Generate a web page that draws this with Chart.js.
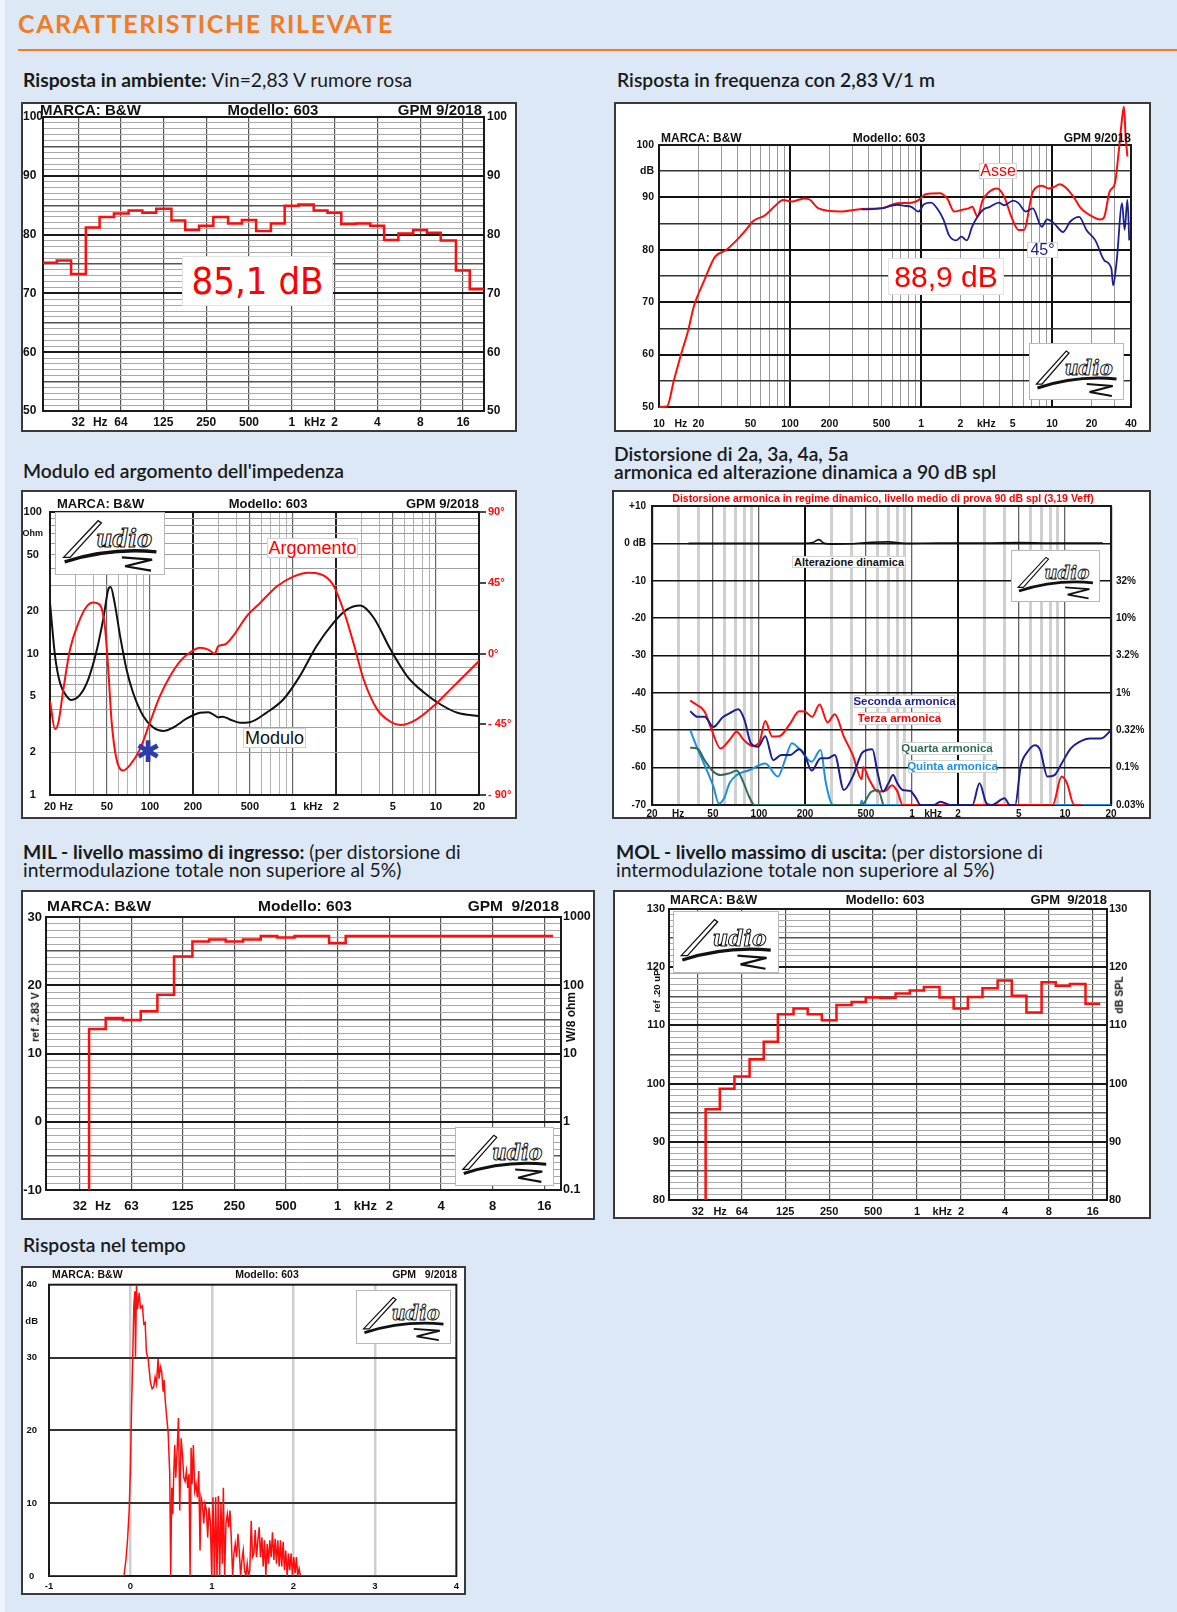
<!DOCTYPE html>
<html lang="it">
<head>
<meta charset="utf-8">
<title>Caratteristiche rilevate - B&amp;W 603</title>
<script src="https://cdn.jsdelivr.net/npm/chart.js@4.4.1/dist/chart.umd.min.js"></script>
<style>
  html, body { margin: 0; padding: 0; }
  body { width: 1177px; height: 1612px; position: relative; overflow: hidden; background: #dce8f6; font-family: Lato, 'Open Sans', sans-serif; color: #1a1a1a; }
  #strip { position: absolute; left: 0; top: 0; width: 5px; height: 1612px; background: #eef4fb; }
  #titolo { position: absolute; left: 18px; top: 11px; font: 700 25px/25px Lato, sans-serif; color: #f47b20; letter-spacing: 1.6px; white-space: nowrap; }
  #riga { position: absolute; left: 18px; top: 49px; width: 1159px; height: 2px; background: #f47b20; }
  .head { position: absolute; font-size: 19.3px; line-height: 18px; font-weight: 600; white-space: nowrap; color: #1a1a1a; }
  .head b { font-weight: 700; }
  .head span { font-weight: 400; }
  .box { position: absolute; background: #fff; border: 2px solid #3a3a3a; box-sizing: border-box; }
  .box canvas { position: absolute; left: 0; top: 0; }
  .t { position: absolute; white-space: pre; line-height: 1; font-family: 'Liberation Sans', Arial, sans-serif; font-weight: bold; color: #111; }
  .tag { position: absolute; display: flex; align-items: center; justify-content: center; white-space: nowrap; background: #fff; border: 1px solid #d4d4d4; box-sizing: border-box; line-height: 1; font-family: 'Liberation Sans', Arial, sans-serif; }
  .logo { position: absolute; background: #fff; border: 1px solid #b8b8b8; box-sizing: border-box; }
</style>
</head>
<body>
<div id="strip"></div>
<div id="titolo">CARATTERISTICHE RILEVATE</div>
<div id="riga"></div>

<div class="head" style="left:23px;top:71px"><b>Risposta in ambiente:</b> <span>Vin=2,83 V rumore rosa</span></div>
<div class="head" style="left:617px;top:71px">Risposta in frequenza con 2,83 V/1 m</div>
<div class="head" style="left:23px;top:462px">Modulo ed argomento dell'impedenza</div>
<div class="head" style="left:614px;top:445px">Distorsione di 2a, 3a, 4a, 5a<br>armonica ed alterazione dinamica a 90 dB spl</div>
<div class="head" style="left:23px;top:843px"><b>MIL - livello massimo di ingresso:</b> <span>(per distorsione di<br>intermodulazione totale non superiore al 5%)</span></div>
<div class="head" style="left:616px;top:843px"><b>MOL - livello massimo di uscita:</b> <span>(per distorsione di<br>intermodulazione totale non superiore al 5%)</span></div>
<div class="head" style="left:23px;top:1236px">Risposta nel tempo</div>

<script>
// ---------- dati ----------

// risposta in ambiente, bande di 1/3 di ottava
const ambBandHz = [20,25,31.5,40,50,63,80,100,125,160,200,250,315,400,500,630,800,1000,1250,1600,2000,2500,3150,4000,5000,6300,8000,10000,12500,16000,20000];
const ambDb = [75.2,75.6,73.3,81.2,83.0,83.6,84.1,83.7,84.4,82.4,80.8,81.5,83.0,81.9,82.5,80.6,81.9,84.9,85.1,84.1,83.7,81.8,81.9,81.5,79.1,80.2,80.8,80.3,79.0,73.9,70.7];
const ambXTickHz = [31.5,45,63,125,250,500,1000,1450,2000,4000,8000,16000];
const ambXTickLbl = ['32','Hz','64','125','250','500','1','kHz','2','4','8','16'];
const ambYTick = [50,60,70,80,90,100];
const ambYLbl = ['50','60','70','80','90','100'];

// risposta in frequenza [Hz, dB]
const frqAsse = [[10,50],[11.5,50.1],[13,55.1],[14.8,60.2],[16.7,64.6],[18.4,69.1],[22.2,74.2],[26.8,78.7],[32.3,79.9],[39,81.8],[47.1,84.1],[51.8,85.4],[64.5,86.6],[77.8,88.5],[88.2,89.5],[103,89.2],[128,89.8],[141,89.6],[165,87.9],[241,87.3],[351,87.8],[511,88.0],[656,88.9],[843,89.0],[957,89.5],[1084,90.6],[1393,90.8],[1581,89.8],[1791,87.3],[2032,87.6],[2303,87.9],[2453,88.2],[2693,86.4],[2958,89.5],[3252,90.9],[3805,91.7],[4313,90.1],[4890,86.3],[5543,83.8],[6092,83.8],[7126,91.1],[8336,92.2],[9452,91.7],[10380,92.0],[11400,92.5],[12930,91.7],[14660,90.0],[16620,87.9],[19440,86.6],[23490,85.8],[25000,86.3],[27480,91.1],[30170,92.7],[32140,98.4],[34210,105.1],[35310,107.3],[36420,101.6],[37560,97.8]];
const frq45 = [[350,87.7],[500,87.9],[656,88.6],[745,88.4],[843,88.2],[957,87.3],[1052,88.7],[1192,89.0],[1351,87.6],[1486,85.7],[1632,82.8],[1849,81.8],[2032,82.5],[2234,81.8],[2453,84.4],[2693,86.3],[2958,87.6],[3357,88.2],[3927,89.0],[4313,88.5],[5046,89.4],[5543,88.9],[6281,87.3],[7126,87.9],[8336,84.4],[9158,85.8],[10380,85.0],[12130,83.4],[13770,85.4],[16100,86.3],[18270,83.8],[21380,81.8],[25000,78.0],[28340,76.4],[29240,73.2],[31140,78.0],[34210,88.9],[35730,83.8],[37560,89.5],[38800,81.8]];
const frqXTickHz = [10,14.7,20,50,100,200,500,1000,2000,3150,5000,10000,20000,40000];
const frqXTickLbl = ['10','Hz','20','50','100','200','500','1','2','kHz','5','10','20','40'];
const frqYTick = [50,60,70,80,90,95,100];
const frqYLbl = ['50','60','70','80','90','dB','100'];

// impedenza [Hz, ohm] e [Hz, gradi]
const impModulo = [[20,22.8],[21.7,9.6],[23.5,6.2],[26.1,5.0],[28.2,4.7],[32.4,5.1],[37.1,6.6],[42.6,10.7],[47.5,18.3],[51.1,28.3],[53.1,29.5],[56.6,22.8],[61.9,13.2],[68.6,7.7],[76.1,5.3],[89.9,3.6],[105.6,3.0],[124,2.83],[145.6,3.0],[180,3.46],[224,3.81],[256,3.85],[284,3.65],[300,3.53],[322,3.58],[362,3.42],[426,3.24],[500,3.27],[651,3.81],[855,4.73],[1117,6.92],[1463,11.3],[1913,16.4],[2378,20.4],[2954,21.8],[3668,17.9],[4806,10.7],[6294,6.9],[8241,5.3],[10790,4.36],[14130,3.81],[20000,3.61]];
const impArgomento = [[20,-30.1],[21.7,-48.1],[22.9,-43.8],[24.8,-22.8],[27.6,2.5],[31.6,19.4],[36.1,29.9],[40.2,32.5],[44.6,31],[48.4,17.3],[51.1,-10.1],[54,-43.8],[58.3,-67],[65,-74.4],[72.3,-71.2],[85.3,-60.7],[100,-43.8],[117.6,-27],[138.4,-14.3],[162.9,-4.8],[191.7,0.8],[224,3.6],[256,2.5],[284,0],[300,4.6],[333,5.7],[381,11],[474,23.6],[587,32],[771,42.6],[1005,48.9],[1278,51.4],[1544,50.6],[1913,43.6],[2251,27.8],[2650,6.7],[3119,-16.4],[3872,-35.4],[4806,-43.4],[5643,-45.5],[7384,-41.7],[9662,-33.3],[12640,-22.8],[16540,-12.2],[20000,-4.8]];
const impXTickHz = [20,26,50,100,200,500,1000,1380,2000,5000,10000,20000];
const impXTickLbl = ['20','Hz','50','100','200','500','1','kHz','2','5','10','20'];
const impYTick = [1,2,5,10,20,50,70,100];
const impYLbl = ['1','2','5','10','20','50','Ohm','100'];
const impFaseTick = [-90,-45,0,45,90];
const impFaseLbl = ['- 90°','- 45°','0°','45°','90°'];

// distorsione armonica [Hz, dB]
const dstSeconda = [[35.5,-44.9],[39.6,-46.4],[44.1,-46.4],[50.4,-49.1],[57.7,-46.6],[64.2,-45.5],[73.5,-44.4],[80.5,-47.3],[88.6,-53.5],[98.7,-54.4],[110,-51.6],[124,-58.0],[140,-56.6],[160,-56.6],[183,-55.1],[199,-56.6],[221,-60.8],[253,-57.5],[281,-57.5],[313,-56.6],[359,-66.0],[410,-62.4],[469,-56.2],[509,-55.3],[551,-55.1],[597,-61.5],[647,-66.4],[702,-64.2],[753,-62.0],[803,-64.2],[870,-66.0],[969,-66.2],[1051,-67.8],[1139,-70],[1400,-70],[1531,-69.1],[1798,-70],[2484,-70],[2764,-64.2],[3077,-69.6],[3334,-70],[4028,-68.2],[4366,-70],[4732,-70],[5130,-59.8],[5712,-55.7],[6356,-54.0],[6892,-55.3],[7674,-62.4],[8550,-62.0],[9510,-58.9],[10890,-54.9],[12450,-53.1],[14630,-52.2],[17190,-52.2],[20000,-50.0]];
const dstTerza = [[35.5,-42.1],[39.6,-43.3],[44.1,-45.0],[49.1,-49.9],[56.1,-54.9],[64.2,-52.6],[71.5,-50.4],[79.6,-52.6],[91,-54.2],[101,-53.1],[110,-47.5],[122,-51.7],[136,-51.6],[160,-48.2],[183,-44.9],[199,-45.0],[223,-46.4],[249,-43.1],[281,-47.9],[313,-45.7],[359,-51.7],[410,-56.6],[469,-63.1],[481,-59.8],[522,-62.9],[597,-66.4],[683,-66.0],[741,-64.7],[803,-66.4],[870,-70],[8318,-70],[9510,-62.4],[10320,-64.2],[11490,-70],[12790,-70]];
const dstQuarta = [[35.5,-54.7],[39.6,-54.9],[44.1,-58.0],[50.4,-61.1],[56.1,-62.0],[64.2,-61.5],[71.5,-60.8],[79.6,-64.2],[86.3,-67.8],[93.6,-70],[469,-70],[540,-66.5],[600,-66.0],[650,-70]];
const dstQuinta = [[35.5,-49.9],[39.6,-54.9],[44.1,-59.3],[50.4,-65.1],[54.7,-69.6],[59.2,-68.2],[64.2,-64.2],[71.5,-62.0],[86.3,-60.7],[110,-58.9],[133,-62.4],[148,-58.0],[164,-53.5],[183,-54.9],[221,-58.4],[253,-55.3],[274,-64.2],[305,-70],[460,-70],[469,-68.8],[481,-70],[20000,-70]];
const dstAlterazione = [[34.6,0],[200,0],[225,0.2],[246,1.0],[268,0],[300,-0.2],[400,-0.1],[550,0.3],[700,0.4],[900,0],[1500,0.1],[3000,0.1],[5000,0.2],[8000,0.1],[17660,0.1]];
const dstXTickHz = [20,29.6,50,100,200,500,1000,1374,2000,5000,10000,20000];
const dstXTickLbl = ['20','Hz','50','100','200','500','1','kHz','2','5','10','20'];
const dstYTick = [-70,-60,-50,-40,-30,-20,-10,0,10];
const dstYLbl = ['-70','-60','-50','-40','-30','-20','-10','0 dB','+10'];
const dstPctLbl = ['0.03%','0.1%','0.32%','1%','3.2%','10%','32%','',''];

// MIL / MOL, bande di 1/3 di ottava
const ioBandHz = [40,50,63,80,100,125,160,200,250,315,400,500,630,800,1000,1250,1600,2000,2500,3150,4000,5000,6300,8000,10000,12500,16000];
const milDb = [13.6,15.2,14.9,16.2,18.6,24.2,26.4,26.7,26.4,26.7,27.2,27.0,27.2,27.2,26.2,27.2,27.2,27.2,27.2,27.2,27.2,27.2,27.2,27.2,27.2,27.2,27.2];
const milFondo = -10;
const milXTickHz = [31.5,43,63,125,250,500,1000,1450,2000,4000,8000,16000];
const milXTickLbl = ['32','Hz','63','125','250','500','1','kHz','2','4','8','16'];
const milYTick = [-10,0,10,20,30];
const milYLbl = ['-10','0','10','20','30'];
const milWLbl = ['0.1','1','10','100','1000'];

const molDb = [95.6,99.1,101.2,104.2,107.2,111.9,112.9,111.9,110.9,113.5,114.0,114.8,114.7,115.5,116.0,116.6,114.8,112.9,114.9,116.4,117.7,115.1,112.2,117.4,116.8,117.1,113.7];
const molFondo = 80;
const molXTickHz = [31.5,44.8,63,125,250,500,1000,1490,2000,4000,8000,16000];
const molXTickLbl = ['32','Hz','64','125','250','500','1','kHz','2','4','8','16'];
const molYTick = [80,90,100,110,120,130];
const molYLbl = ['80','90','100','110','120','130'];

// risposta nel tempo [ms, dB]
const tmpPts = [[-1,0],[-0.08,0],[-0.056,2.2],[-0.036,4.9],[-0.016,9.0],[0.001,15.3],[0.013,23.0],[0.025,28.5],[0.041,37.1],[0.054,39.1],[0.062,30.1],[0.074,40.0],[0.086,36.6],[0.107,38.9],[0.123,36.8],[0.147,37.1],[0.164,34.6],[0.18,34.8],[0.196,30.7],[0.217,29.8],[0.245,26.6],[0.266,25.7],[0.286,26.0],[0.302,27.3],[0.319,26.4],[0.339,29.8],[0.351,27.1],[0.368,28.7],[0.384,28.0],[0.401,25.3],[0.413,26.9],[0.425,24.4],[0.442,22.1],[0.462,19.8],[0.482,14.0],[0.494,0],[0.507,12.1],[0.519,8.5],[0.531,14.0],[0.544,18.0],[0.556,13.5],[0.572,17.1],[0.589,21.7],[0.605,9.0],[0.621,18.9],[0.638,16.7],[0.654,13.5],[0.670,13.0],[0.687,14.4],[0.703,12.1],[0.719,14.0],[0.732,0],[0.744,17.6],[0.756,12.6],[0.772,18.0],[0.789,11.7],[0.805,12.6],[0.821,10.8],[0.838,14.4],[0.854,3.5],[0.866,10.8],[0.883,9.9],[0.899,7.2],[0.915,9.9],[0.932,9.0],[0.948,5.3],[0.964,9.4],[0.981,7.2],[0.997,0],[1.013,10.8],[1.03,0],[1.046,10.8],[1.062,0],[1.078,11.0],[1.095,0],[1.111,9.9],[1.127,1.7],[1.14,12.1],[1.156,0],[1.172,7.2],[1.189,8.5],[1.205,6.7],[1.221,9.0],[1.237,5.3],[1.254,0],[1.27,3.1],[1.286,4.4],[1.303,2.6],[1.319,5.8],[1.335,3.5],[1.352,0],[1.368,2.2],[1.384,3.5],[1.4,0.8],[1.417,0],[1.433,1.7],[1.449,0],[1.465,0.8],[1.482,7.6],[1.498,2.6],[1.515,3.1],[1.531,6.3],[1.547,2.6],[1.564,4.9],[1.58,6.7],[1.596,2.6],[1.613,5.3],[1.629,1.3],[1.645,4.9],[1.662,0],[1.678,4.4],[1.694,1.7],[1.71,4.9],[1.727,2.6],[1.743,6.0],[1.76,2.2],[1.776,5.1],[1.792,1.7],[1.808,4.9],[1.825,1.3],[1.841,4.9],[1.857,1.3],[1.874,4.7],[1.89,0.8],[1.906,3.5],[1.923,0],[1.939,3.1],[1.955,0.8],[1.972,3.1],[1.988,0],[2.004,2.6],[2.021,0.4],[2.037,2.6],[2.053,0],[2.07,1.0],[2.086,0],[4,0]];
const tmpXTick = [-1,0,1,2,3,4];
const tmpXLbl = ['-1','0','1','2','3','4'];
const tmpYTick = [0,10,20,30,35,40];
const tmpYLbl = ['0','10','20','30','dB','40'];

// ---------- stile ----------
const RED = '#ff0d0d';
const NAVY = '#1c1f8f';
const BORDER = 2;

Chart.defaults.font.family = "'Liberation Sans', Arial, sans-serif";
Chart.defaults.font.weight = 'bold';
Chart.defaults.color = '#111';

// cornice attorno all'area del grafico
Chart.register({
  id: 'frame',
  defaults: { width: 2, color: '#1a1a1a' },
  beforeDatasetsDraw(chart, args, o) {
    const a = chart.chartArea, c = chart.ctx;
    c.save();
    c.strokeStyle = o.color; c.lineWidth = o.width;
    c.strokeRect(a.left, a.top, a.right - a.left, a.bottom - a.top);
    c.restore();
  }
});

function range(a, b, s) {
  const r = [];
  for (let v = a; v <= b + 1e-9; v += s) r.push(Math.round(v * 1000) / 1000);
  return r;
}
function logGrid(lo, hi) {
  const r = [];
  for (let d = 1; d <= 1e5; d *= 10)
    for (let m = 1; m < 10; m++) { const v = m * d; if (v >= lo && v <= hi) r.push(v); }
  return r;
}
const xy = pts => pts.map(p => ({ x: p[0], y: p[1] }));

// punti per la linea a gradini: un punto sul bordo sinistro di ogni banda
function steps(bands, vals, floor) {
  const pts = bands.map((f, i) => ({ x: f * Math.pow(2, -1 / 6), y: vals[i] }));
  pts.push({ x: bands[bands.length - 1] * Math.pow(2, 1 / 6), y: vals[vals.length - 1] });
  if (floor !== undefined) pts.unshift({ x: pts[0].x, y: floor });
  return pts;
}

function panel(x, y, w, h) {
  const box = document.createElement('div');
  box.className = 'box';
  box.style.cssText = `left:${x}px;top:${y}px;width:${w}px;height:${h}px`;
  const cv = document.createElement('canvas');
  const cw = w - 2 * BORDER, ch = h - 2 * BORDER;
  cv.width = cw; cv.height = ch;
  cv.style.width = cw + 'px'; cv.style.height = ch + 'px';
  box.appendChild(cv);
  document.body.appendChild(box);
  return { cv, ox: x + BORDER, oy: y + BORDER, cw, ch };
}
function area(p, x0, y0, x1, y1) {
  return { left: x0 - p.ox, top: y0 - p.oy, right: p.ox + p.cw - x1, bottom: p.oy + p.ch - y1 };
}

function axis(o) {
  const grid = o.grid || [];
  const tv = o.tv || [];
  const all = [...new Set([...grid, ...tv])].sort((a, b) => a - b);
  const horiz = o.pos === 'bottom';
  const none = { c: 'rgba(0,0,0,0)', w: 0 };
  const st = v => (o.style && grid.includes(v)) ? o.style(v) : none;
  return {
    type: o.type || 'linear',
    position: o.pos,
    min: o.min, max: o.max,
    afterFit: s => { if (horiz) s.height = o.fit; else s.width = o.fit; },
    afterBuildTicks: s => { s.ticks = all.map(v => ({ value: v })); },
    ticks: {
      autoSkip: false, maxRotation: 0, minRotation: 0,
      padding: o.pad || 0, crossAlign: o.cross || 'near',
      font: o.font, color: o.color || '#111',
      callback: v => { const i = tv.indexOf(v); return i < 0 ? '' : o.tl[i]; }
    },
    grid: {
      display: true,
      drawOnChartArea: !!o.style,
      drawTicks: !!o.tickLen,
      tickLength: o.tickLen || 0,
      tickColor: '#111', tickWidth: o.tickLen ? 1.5 : 1,
      color: c => st(c.tick.value).c,
      lineWidth: c => st(c.tick.value).w
    },
    border: { display: false }
  };
}

function config(L, padRight, datasets, scales) {
  return {
    type: 'line',
    data: { datasets: datasets.map(d => Object.assign({ pointRadius: 0, fill: false, tension: 0 }, d)) },
    options: {
      responsive: false, animation: false, events: [],
      layout: { padding: { left: 0, top: L.top, right: padRight ? L.right : 0, bottom: 0 } },
      plugins: { legend: { display: false }, tooltip: { enabled: false } },
      scales
    }
  };
}

const dbGrid = v => Math.abs(v % 10) < 1e-9 ? { c: '#1a1a1a', w: 2 }
  : Math.abs(v % 5) < 1e-9 ? { c: '#555', w: 1.4 } : { c: '#a9a9a9', w: 1 };
const onlyGrid = (tv, tl) => tv.filter((v, i) => !/Hz/.test(tl[i]));

// ---------- testi sovrapposti ----------
function put(x, y, text, align, css) {
  const d = document.createElement('div');
  d.className = 't';
  d.textContent = text;
  const tx = align === 'c' ? '-50%' : align === 'r' ? '-100%' : '0';
  d.style.cssText = `left:${x}px;top:${y}px;transform:translate(${tx},-50%);${css || ''}`;
  document.body.appendChild(d);
  return d;
}
function vput(x, y, text, css) {
  const d = put(x, y, text, 'c', css);
  d.style.transform = 'translate(-50%,-50%) rotate(-90deg)';
}
function tag(x0, y0, x1, y1, text, css) {
  const d = document.createElement('div');
  d.className = 'tag';
  d.textContent = text;
  d.style.cssText = `left:${x0}px;top:${y0}px;width:${x1 - x0}px;height:${y1 - y0}px;${css || ''}`;
  document.body.appendChild(d);
}
function hdr(y, xl, xc, xr, size, gpm) {
  const css = `font-size:${size}px`;
  put(xl, y, 'MARCA: B&W', 'l', css);
  put(xc, y, 'Modello: 603', 'c', css);
  put(xr, y, gpm || 'GPM 9/2018', 'r', css);
}
function logo(x0, y0, x1, y1) {
  const d = document.createElement('div');
  d.className = 'logo';
  d.style.cssText = `left:${x0}px;top:${y0}px;width:${x1 - x0}px;height:${y1 - y0}px`;
  d.innerHTML = '<svg width="100%" height="100%" viewBox="0 0 200 110" preserveAspectRatio="none">' +
    '<path d="M14 80 L78 14 L84 18 L26 80 Z" fill="#fff" stroke="#111" stroke-width="2.5"/>' +
    '<text x="74" y="62" font-family="DejaVu Serif" font-style="italic" font-weight="bold" font-size="42" fill="#fff" stroke="#111" stroke-width="2">udio</text>' +
    '<path d="M16 88 Q100 62 186 70" fill="none" stroke="#111" stroke-width="6"/>' +
    '<path d="M122 80 L178 84 L128 96 L176 104" fill="none" stroke="#111" stroke-width="4"/>' +
    '</svg>';
  document.body.appendChild(d);
}

// ---------- 1. risposta in ambiente ----------
const pA = panel(21, 102, 496, 330);
const LA = area(pA, 43, 117, 484, 411);
new Chart(pA.cv, config(LA, false, [
  { data: steps(ambBandHz, ambDb), borderColor: RED, borderWidth: 2.5, stepped: true }
], {
  x: axis({ type: 'logarithmic', pos: 'bottom', min: ambBandHz[0] * Math.pow(2, -1 / 6), max: ambBandHz[ambBandHz.length - 1] * Math.pow(2, 1 / 6),
    fit: LA.bottom, pad: 4, tv: ambXTickHz, tl: ambXTickLbl, grid: onlyGrid(ambXTickHz, ambXTickLbl),
    style: () => ({ c: '#555', w: 1.2 }), font: { size: 12 } }),
  y: axis({ pos: 'left', min: 50, max: 100, fit: LA.left, cross: 'far', tv: ambYTick, tl: ambYLbl,
    grid: range(50, 100, 1), style: dbGrid, font: { size: 12 } }),
  y2: axis({ pos: 'right', min: 50, max: 100, fit: LA.right, pad: 3, tv: ambYTick, tl: ambYLbl, font: { size: 12 } })
}));
hdr(109, 40, 273, 482, 15);
tag(182, 256, 333, 306, '85,1 dB', 'color:#f00;font-family:"DejaVu Sans Condensed","DejaVu Sans",sans-serif;font-size:38px;border-color:#e2e2e2');

// ---------- 2. risposta in frequenza ----------
const pF = panel(614, 102, 537, 330);
const LF = area(pF, 659, 145, 1131, 407);
new Chart(pF.cv, config(LF, true, [
  { data: xy(frq45), borderColor: NAVY, borderWidth: 1.8, cubicInterpolationMode: 'monotone' },
  { data: xy(frqAsse), borderColor: RED, borderWidth: 2, cubicInterpolationMode: 'monotone', clip: false }
], {
  x: axis({ type: 'logarithmic', pos: 'bottom', min: 10, max: 40000, fit: LF.bottom, pad: 11,
    tv: frqXTickHz, tl: frqXTickLbl, grid: logGrid(10, 40000),
    style: v => [100, 1000, 10000].includes(v) ? { c: '#111', w: 2 } : { c: '#9a9a9a', w: 1 }, font: { size: 10.5 } }),
  y: axis({ pos: 'left', min: 50, max: 100, fit: LF.left, pad: 5, tv: frqYTick, tl: frqYLbl,
    grid: range(50, 100, 5), style: v => v % 10 === 0 ? { c: '#111', w: 2 } : { c: '#333', w: 1.4 }, font: { size: 10.5 } })
}));
hdr(138, 661, 889, 1131, 12);
tag(979, 163, 1017, 179, 'Asse', 'color:#f00;font-size:16px');
tag(1027, 242, 1058, 258, '45°', 'color:' + NAVY + ';font-size:16px');
tag(888, 258, 1004, 295, '88,9 dB', 'color:#f00;font-size:30px;border-color:#e2e2e2');
logo(1029, 343, 1124, 400);

// ---------- 3. impedenza ----------
const pI = panel(21, 490, 496, 329);
const LI = area(pI, 50, 512, 479, 795);
new Chart(pI.cv, config(LI, false, [
  { data: xy(impArgomento), yAxisID: 'y2', borderColor: RED, borderWidth: 2, cubicInterpolationMode: 'monotone' },
  { data: xy(impModulo), yAxisID: 'y', borderColor: '#111', borderWidth: 2, cubicInterpolationMode: 'monotone' }
], {
  x: axis({ type: 'logarithmic', pos: 'bottom', min: 20, max: 20000, fit: LI.bottom, pad: 5,
    tv: impXTickHz, tl: impXTickLbl, grid: logGrid(20, 20000),
    style: v => [20, 200, 2000, 20000].includes(v) ? { c: '#222', w: 2 }
      : [50, 100, 500, 1000, 5000, 10000].includes(v) ? { c: '#666', w: 1.2 } : { c: '#b2b2b2', w: 1 },
    font: { size: 11 } }),
  y: axis({ type: 'logarithmic', pos: 'left', min: 1, max: 100, fit: LI.left, pad: 7, cross: 'center',
    tv: impYTick, tl: impYLbl, grid: logGrid(1, 100),
    style: v => v === 10 ? { c: '#111', w: 2 } : { c: '#a0a0a0', w: 1 },
    font: c => ({ size: c.tick && c.tick.value === 70 ? 9 : 11 }) }),
  y2: axis({ pos: 'right', min: -90, max: 90, fit: LI.right, pad: 2, tickLen: 7,
    tv: impFaseTick, tl: impFaseLbl, color: RED, font: { size: 11 } })
}));
hdr(503, 57, 268, 479, 13);
tag(267, 538, 358, 558, 'Argomento', 'color:#f00;font-size:18px');
tag(243, 728, 306, 748, 'Modulo', 'color:#111;font-size:18px');
put(148, 752, '✱', 'c', 'color:#2a3cae;font-family:"DejaVu Sans",sans-serif;font-size:30px;font-weight:normal');
logo(55, 512, 165, 575);

// ---------- 4. distorsione ----------
const pD = panel(612, 490, 539, 329);
const LD = area(pD, 652, 506, 1111, 805);
new Chart(pD.cv, config(LD, false, [
  { data: xy(dstAlterazione), borderColor: '#111', borderWidth: 1.6, cubicInterpolationMode: 'monotone' },
  { data: xy(dstQuarta), borderColor: '#2f6e55', borderWidth: 2, cubicInterpolationMode: 'monotone' },
  { data: xy(dstSeconda), borderColor: NAVY, borderWidth: 2, cubicInterpolationMode: 'monotone' },
  { data: xy(dstTerza), borderColor: RED, borderWidth: 2, cubicInterpolationMode: 'monotone' },
  { data: xy(dstQuinta), borderColor: '#1e90e0', borderWidth: 2, cubicInterpolationMode: 'monotone' }
], {
  x: axis({ type: 'logarithmic', pos: 'bottom', min: 20, max: 20000, fit: LD.bottom, pad: 3,
    tv: dstXTickHz, tl: dstXTickLbl, grid: logGrid(20, 20000),
    style: v => [200, 2000].includes(v) ? { c: '#111', w: 2 }
      : [50, 100, 500, 1000, 5000, 10000].includes(v) ? { c: '#666', w: 1.3 } : { c: '#d0d0d0', w: 3 },
    font: { size: 10 } }),
  y: axis({ pos: 'left', min: -70, max: 10, fit: LD.left, pad: 6, tv: dstYTick, tl: dstYLbl,
    grid: range(-70, 10, 10), style: () => ({ c: '#111', w: 1.6 }), font: { size: 10 } }),
  y2: axis({ pos: 'right', min: -70, max: 10, fit: LD.right, pad: 5, tv: dstYTick, tl: dstPctLbl, font: { size: 10 } })
}));
put(883, 498, 'Distorsione armonica in regime dinamico, livello medio di prova 90 dB spl (3,19 Veff)', 'c', 'color:#f00;font-size:10.5px');
tag(792, 556, 906, 568, 'Alterazione dinamica', 'color:#111;font-size:11px;font-weight:bold');
tag(854, 695, 955, 708, 'Seconda armonica', 'color:' + NAVY + ';font-size:11.5px;font-weight:bold');
tag(859, 712, 940, 725, 'Terza armonica', 'color:#f00;font-size:11.5px;font-weight:bold');
tag(902, 742, 992, 755, 'Quarta armonica', 'color:#2f6e55;font-size:11.5px;font-weight:bold');
tag(908, 760, 997, 773, 'Quinta armonica', 'color:#1e90e0;font-size:11.5px;font-weight:bold');
logo(1011, 550, 1100, 602);

// ---------- 5. MIL ----------
const pM = panel(21, 890, 574, 330);
const LM = area(pM, 46, 917, 561, 1190);
new Chart(pM.cv, config(LM, false, [
  { data: steps(ioBandHz, milDb, milFondo), borderColor: RED, borderWidth: 2.5, stepped: true }
], {
  x: axis({ type: 'logarithmic', pos: 'bottom', min: 20, max: 20000, fit: LM.bottom, pad: 9,
    tv: milXTickHz, tl: milXTickLbl, grid: onlyGrid(milXTickHz, milXTickLbl),
    style: () => ({ c: '#555', w: 1.2 }), font: { size: 13 } }),
  y: axis({ pos: 'left', min: -10, max: 30, fit: LM.left, pad: 4, tv: milYTick, tl: milYLbl,
    grid: range(-10, 30, 1), style: dbGrid, font: { size: 13 } }),
  y2: axis({ pos: 'right', min: -10, max: 30, fit: LM.right, pad: 2, tv: milYTick, tl: milWLbl, font: { size: 12.5 } })
}));
hdr(906, 47, 305, 559, 15.5, 'GPM  9/2018');
vput(35, 1017, 'ref .2.83 V', 'font-size:10.5px');
vput(571, 1017, 'W/8 ohm', 'font-size:12px');
logo(455, 1127, 554, 1186);

// ---------- 6. MOL ----------
const pO = panel(613, 890, 538, 329);
const LO = area(pO, 669, 909, 1107, 1200);
new Chart(pO.cv, config(LO, false, [
  { data: steps(ioBandHz, molDb, molFondo), borderColor: RED, borderWidth: 2.5, stepped: true }
], {
  x: axis({ type: 'logarithmic', pos: 'bottom', min: 20, max: 20000, fit: LO.bottom, pad: 5,
    tv: molXTickHz, tl: molXTickLbl, grid: onlyGrid(molXTickHz, molXTickLbl),
    style: () => ({ c: '#555', w: 1.2 }), font: { size: 11 } }),
  y: axis({ pos: 'left', min: 80, max: 130, fit: LO.left, pad: 4, tv: molYTick, tl: molYLbl,
    grid: range(80, 130, 1), style: dbGrid, font: { size: 11 } }),
  y2: axis({ pos: 'right', min: 80, max: 130, fit: LO.right, pad: 2, tv: molYTick, tl: molYLbl, font: { size: 11 } })
}));
hdr(899, 670, 885, 1107, 13, 'GPM  9/2018');
vput(657, 991, 'ref .20 uP', 'font-size:9.5px');
vput(1119, 995, 'dB SPL', 'font-size:10.5px');
logo(673, 911, 779, 973);

// ---------- 7. risposta nel tempo ----------
const pT = panel(21, 1266, 445, 329);
const LT = area(pT, 49, 1282, 457, 1576);
new Chart(pT.cv, config(LT, true, [
  { data: xy(tmpPts), borderColor: RED, borderWidth: 1.5 }
], {
  x: axis({ pos: 'bottom', min: -1, max: 4, fit: LT.bottom, pad: 5, tv: tmpXTick, tl: tmpXLbl,
    grid: [0, 1, 2, 3], style: () => ({ c: '#cfcfcf', w: 2.5 }), font: { size: 9.5 } }),
  y: axis({ pos: 'left', min: 0, max: 40, fit: LT.left, pad: 11, cross: 'center', tv: tmpYTick, tl: tmpYLbl,
    grid: [10, 20, 30], style: () => ({ c: '#333', w: 2 }), font: { size: 9.5 } })
}));
hdr(1274, 52, 267, 457, 10.5, 'GPM   9/2018');
logo(356, 1290, 451, 1344);
</script>
</body>
</html>
